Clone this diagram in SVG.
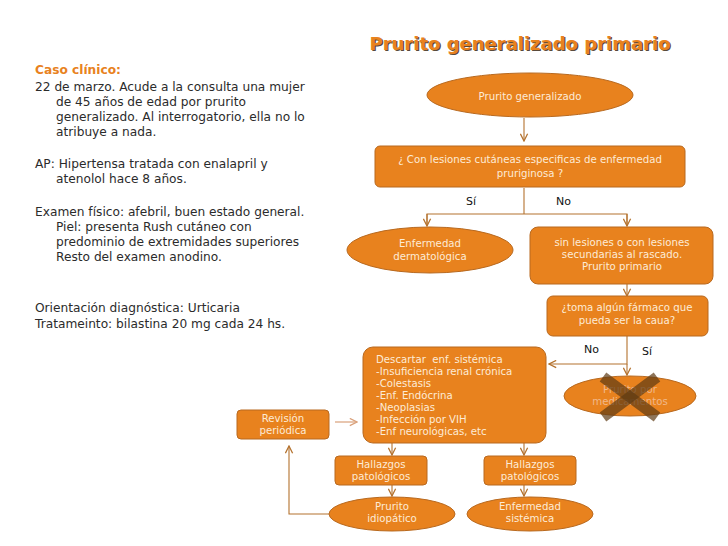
<svg xmlns="http://www.w3.org/2000/svg" width="728" height="546" viewBox="0 0 728 546">
<defs>
<style>
.bg{fill:#ffffff}
.nd{fill:#E8821E;stroke:#B8691F;stroke-width:1}
.nt{font-family:"DejaVu Sans",Verdana,sans-serif;font-size:10.2px;fill:#FDEBD6;text-anchor:middle}
.lt{font-family:"DejaVu Sans",Verdana,sans-serif;font-size:10.2px;fill:#FDEBD6;white-space:pre}
.body{font-family:"DejaVu Sans",Verdana,sans-serif;font-size:12.2px;fill:#2b2b2b}
.lbl{font-family:"DejaVu Sans",Verdana,sans-serif;font-size:11px;fill:#111}
.ttl{font-family:"DejaVu Sans",Verdana,sans-serif;font-size:18px;font-weight:bold;fill:#E8821E}
.cn{fill:none;stroke:#B4722E;stroke-width:1.1}
</style>
<marker id="arr" viewBox="0 0 10 10" refX="9" refY="5" markerWidth="9" markerHeight="9" markerUnits="userSpaceOnUse" orient="auto">
<path d="M1,1 L9,5 L1,9" fill="none" stroke="#B4722E" stroke-width="1.4"/>
</marker>
<marker id="arrl" viewBox="0 0 10 10" refX="9" refY="5" markerWidth="9" markerHeight="9" markerUnits="userSpaceOnUse" orient="auto">
<path d="M1,1 L9,5 L1,9" fill="none" stroke="#D9A07A" stroke-width="1.4"/>
</marker>
</defs>
<rect class="bg" x="0" y="0" width="728" height="546"/>

<g id="title">
<text class="ttl" x="520" y="50" text-anchor="middle" style="fill:#5a4a3a" transform="translate(1.2,1.2)">Prurito generalizado primario</text>
<text class="ttl" x="520" y="50" text-anchor="middle">Prurito generalizado primario</text>
</g>

<g id="caso">
<text x="35" y="74" style="font-family:'DejaVu Sans',Verdana,sans-serif;font-size:12.2px;font-weight:bold;fill:#E8821E">Caso clínico:</text>
<text class="body" x="35" y="91">22 de marzo. Acude a la consulta una mujer</text>
<text class="body" x="56" y="106">de 45 años de edad por prurito</text>
<text class="body" x="56" y="121">generalizado. Al interrogatorio, ella no lo</text>
<text class="body" x="56" y="136">atribuye a nada.</text>
<text class="body" x="35" y="168">AP: Hipertensa tratada con enalapril y</text>
<text class="body" x="56" y="183">atenolol hace 8 años.</text>
<text class="body" x="35" y="216">Examen físico: afebril, buen estado general.</text>
<text class="body" x="56" y="231">Piel: presenta Rush cutáneo con</text>
<text class="body" x="56" y="246">predominio de extremidades superiores</text>
<text class="body" x="56" y="261">Resto del examen anodino.</text>
<text class="body" x="35" y="312">Orientación diagnóstica: Urticaria</text>
<text class="body" x="35" y="328">Tratameinto: bilastina 20 mg cada 24 hs.</text>
</g>

<g id="connectors">
<line class="cn" x1="524" y1="118" x2="524" y2="141" marker-end="url(#arr)"/>
<polyline class="cn" points="524,188 524,214"/>
<polyline class="cn" points="427,225 427,214 627,214 627,225"/>
<line class="cn" x1="427" y1="214" x2="427" y2="226" marker-end="url(#arr)"/>
<line class="cn" x1="627" y1="214" x2="627" y2="226" marker-end="url(#arr)"/>
<line class="cn" x1="627" y1="284" x2="627" y2="296" marker-end="url(#arr)"/>
<polyline class="cn" points="627,336 627,364 549,364" marker-end="url(#arr)"/>
<line class="cn" x1="627" y1="364" x2="627" y2="375" marker-end="url(#arr)"/>
<line x1="335" y1="422" x2="357" y2="422" stroke="#D9A07A" stroke-width="1.2" marker-end="url(#arrl)"/>
<line class="cn" x1="392" y1="443" x2="392" y2="455" marker-end="url(#arr)"/>
<line class="cn" x1="524" y1="443" x2="524" y2="455" marker-end="url(#arr)"/>
<line class="cn" x1="392" y1="485" x2="392" y2="496" marker-end="url(#arr)"/>
<line class="cn" x1="524" y1="485" x2="524" y2="496" marker-end="url(#arr)"/>
<polyline class="cn" points="329,514 289,514 289,446" marker-end="url(#arr)"/>
<text class="lbl" x="466" y="205">Sí</text>
<text class="lbl" x="556" y="205">No</text>
<text class="lbl" x="584" y="353">No</text>
<text class="lbl" x="642" y="355">Sí</text>
</g>

<g id="n-prurito-generalizado">
<ellipse class="nd" cx="530" cy="95" rx="103" ry="22"/>
<text class="nt" x="530" y="99.5">Prurito generalizado</text>
</g>

<g id="n-lesiones">
<rect class="nd" x="375" y="146" width="310" height="41" rx="5"/>
<text class="nt" x="530" y="163">¿ Con lesiones cutáneas especificas de enfermedad</text>
<text class="nt" x="530" y="177">pruriginosa ?</text>
</g>

<g id="n-dermatologica">
<ellipse class="nd" cx="430" cy="250" rx="83" ry="23"/>
<text class="nt" x="430" y="247">Enfermedad</text>
<text class="nt" x="430" y="260">dermatológica</text>
</g>

<g id="n-sin-lesiones">
<rect class="nd" x="530" y="227" width="183" height="57" rx="8"/>
<text class="nt" x="622" y="246">sin lesiones o con lesiones</text>
<text class="nt" x="622" y="258">secundarias al rascado.</text>
<text class="nt" x="622" y="270">Prurito primario</text>
</g>

<g id="n-farmaco">
<rect class="nd" x="547" y="296" width="161" height="40" rx="6"/>
<text class="nt" x="627" y="311">¿toma algún fármaco que</text>
<text class="nt" x="627" y="324">pueda ser la caua?</text>
</g>

<g id="n-medicamentos">
<ellipse class="nd" cx="630" cy="396" rx="66" ry="20"/>
<text class="nt" x="630" y="393" style="fill:#F0B88A">Prurito por</text>
<text class="nt" x="630" y="405" style="fill:#F0B88A">medicamentos</text>
<line x1="603" y1="377" x2="657" y2="417" stroke="#5E3A14" stroke-opacity="0.7" stroke-width="11"/>
<line x1="657" y1="377" x2="603" y2="417" stroke="#5E3A14" stroke-opacity="0.7" stroke-width="11"/>
</g>

<g id="n-descartar">
<rect class="nd" x="363" y="347" width="183" height="96" rx="10"/>
<text class="lt" x="376" y="363" xml:space="preserve">Descartar  enf. sistémica</text>
<text class="lt" x="376" y="375">-Insuficiencia renal crónica</text>
<text class="lt" x="376" y="387">-Colestasis</text>
<text class="lt" x="376" y="399">-Enf. Endócrina</text>
<text class="lt" x="376" y="411">-Neoplasias</text>
<text class="lt" x="376" y="423">-Infección por VIH</text>
<text class="lt" x="376" y="435">-Enf neurológicas, etc</text>
</g>

<g id="n-revision">
<rect class="nd" x="237" y="410" width="92" height="29" rx="4"/>
<text class="nt" x="283" y="422">Revisión</text>
<text class="nt" x="283" y="434">periódica</text>
</g>

<g id="n-hallazgos-1">
<rect class="nd" x="335" y="456" width="92" height="29" rx="4"/>
<text class="nt" x="381" y="468">Hallazgos</text>
<text class="nt" x="381" y="480">patológicos</text>
</g>

<g id="n-hallazgos-2">
<rect class="nd" x="484" y="456" width="92" height="29" rx="4"/>
<text class="nt" x="530" y="468">Hallazgos</text>
<text class="nt" x="530" y="480">patológicos</text>
</g>

<g id="n-idiopatico">
<ellipse class="nd" cx="392" cy="514" rx="63" ry="17"/>
<text class="nt" x="392" y="510">Prurito</text>
<text class="nt" x="392" y="522">idiopático</text>
</g>

<g id="n-sistemica">
<ellipse class="nd" cx="530" cy="514" rx="63" ry="17"/>
<text class="nt" x="530" y="510">Enfermedad</text>
<text class="nt" x="530" y="522">sistémica</text>
</g>
</svg>
